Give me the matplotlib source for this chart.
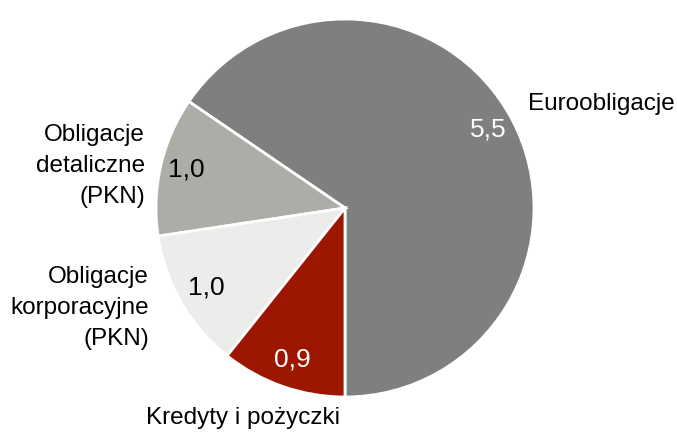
import matplotlib
matplotlib.use("Agg")
import matplotlib.pyplot as plt

categories = ["Euroobligacje", "Obligacje\ndetaliczne\n(PKN)", "Obligacje\nkorporacyjne\n(PKN)", "Kredyty i pożyczki"]
values = [5.5, 1.0, 1.0, 0.9]
value_labels = ["5,5", "1,0", "1,0", "0,9"]
colors = ["#7f7f7f", "#adada8", "#ececea", "#9c1600"]
value_text_colors = ["white", "black", "black", "white"]

plt.rcParams['font.family'] = ['Liberation Sans', 'DejaVu Sans']

fig = plt.figure(figsize=(6.77, 4.37), dpi=100)
ax = fig.add_axes([0, 0, 1, 1])
ax.set_aspect('equal')
ax.axis('off')

cx, cy, r = 345, 229, 189
wedges, _ = ax.pie(values, colors=colors, startangle=-90, counterclock=True,
                   center=(cx, cy), radius=r,
                   wedgeprops=dict(edgecolor='white', linewidth=2))
ax.set_xlim(0, 677)
ax.set_ylim(0, 437)

vfs = 19
val_pos = [(488, 130), (186, 170), (206, 287), (292, 360)]
for (x, y), t, c in zip(val_pos, value_labels, value_text_colors):
    ax.text(x, 437 - y, t, color=c, fontsize=vfs, ha='center', va='center')

cfs = 17.5
cat_pos = [(528, 104, 'left'), (145, 166, 'right'), (149, 308, 'right'), (243, 418, 'center')]
for (x, y, ha), t in zip(cat_pos, categories):
    ax.text(x, 437 - y, t, color='black', fontsize=cfs, ha=ha, va='center',
            multialignment=ha, linespacing=1.5)

fig.savefig("out.png", dpi=100)
